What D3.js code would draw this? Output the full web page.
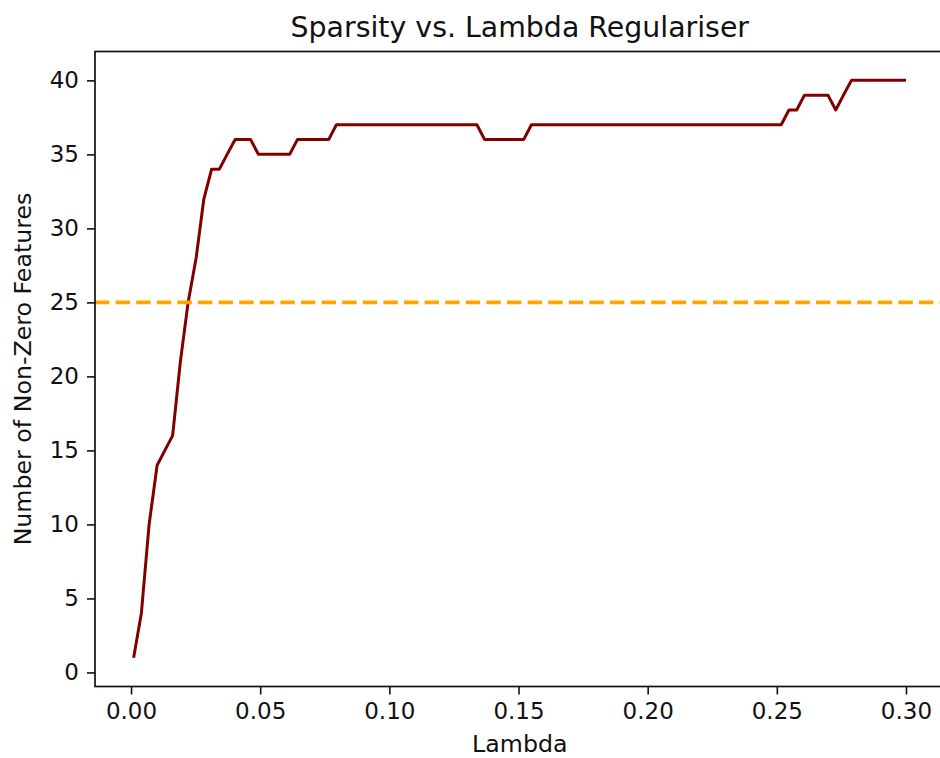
<!DOCTYPE html>
<html>
<head>
<meta charset="utf-8">
<script src="https://cdn.jsdelivr.net/npm/d3@7"></script>
<style>
  html, body { margin: 0; padding: 0; background: #fff; }
  svg { display: block; font-family: "DejaVu Sans", sans-serif; }
</style>
</head>
<body>
<svg id="chart" width="940" height="758"></svg>
<script>
// Lambda values tried by the regularisation sweep
const lambdas = [
  0.0010, 0.0040, 0.0070, 0.0101, 0.0131, 0.0161, 0.0191, 0.0221, 0.0252, 0.0282,
  0.0312, 0.0342, 0.0372, 0.0403, 0.0433, 0.0463, 0.0493, 0.0523, 0.0554, 0.0584,
  0.0614, 0.0644, 0.0674, 0.0705, 0.0735, 0.0765, 0.0795, 0.0825, 0.0856, 0.0886,
  0.0916, 0.0946, 0.0976, 0.1007, 0.1037, 0.1067, 0.1097, 0.1127, 0.1158, 0.1188,
  0.1218, 0.1248, 0.1278, 0.1309, 0.1339, 0.1369, 0.1399, 0.1429, 0.1460, 0.1490,
  0.1520, 0.1550, 0.1580, 0.1611, 0.1641, 0.1671, 0.1701, 0.1731, 0.1762, 0.1792,
  0.1822, 0.1852, 0.1882, 0.1913, 0.1943, 0.1973, 0.2003, 0.2034, 0.2064, 0.2094,
  0.2124, 0.2154, 0.2185, 0.2215, 0.2245, 0.2275, 0.2305, 0.2336, 0.2366, 0.2396,
  0.2426, 0.2456, 0.2487, 0.2517, 0.2547, 0.2577, 0.2607, 0.2638, 0.2668, 0.2698,
  0.2728, 0.2758, 0.2789, 0.2819, 0.2849, 0.2879, 0.2909, 0.2940, 0.2970, 0.3000
];

// Number of non-zero coefficients at each lambda
const nonZeroCounts = [
  1, 4, 10, 14, 15, 16, 21, 25, 28, 32,
  34, 34, 35, 36, 36, 36, 35, 35, 35, 35,
  35, 36, 36, 36, 36, 36, 37, 37, 37, 37,
  37, 37, 37, 37, 37, 37, 37, 37, 37, 37,
  37, 37, 37, 37, 37, 36, 36, 36, 36, 36,
  36, 37, 37, 37, 37, 37, 37, 37, 37, 37,
  37, 37, 37, 37, 37, 37, 37, 37, 37, 37,
  37, 37, 37, 37, 37, 37, 37, 37, 37, 37,
  37, 37, 37, 37, 38, 38, 39, 39, 39, 39,
  38, 39, 40, 40, 40, 40, 40, 40, 40, 40
];

// Target feature count shown as a reference line
const targetFeatures = 25;

const xTicks = [0.00, 0.05, 0.10, 0.15, 0.20, 0.25, 0.30];
const yTicks = [0, 5, 10, 15, 20, 25, 30, 35, 40];

const titleText = "Sparsity vs. Lambda Regulariser";
const xLabelText = "Lambda";
const yLabelText = "Number of Non-Zero Features";

// Layout
const plot = { left: 95, right: 944.6, top: 51.5, bottom: 686.5 };
const tickFont = 23, titleFont = 28.4, labelFont = 23.7;
const tickLen = 8, tickPad = 8;
const ink = "#111";

const svg = d3.select("#chart");

// Axis limits padded by 5% of the data range on each side
const xMin = d3.min(lambdas), xMax = d3.max(lambdas);
const xPad = (xMax - xMin) * 0.05;
const yMin = d3.min(nonZeroCounts), yMax = d3.max(nonZeroCounts);
const yPad = (yMax - yMin) * 0.05;

const x = d3.scaleLinear().domain([xMin - xPad, xMax + xPad]).range([plot.left, plot.right]);
const y = d3.scaleLinear().domain([yMin - yPad, yMax + yPad]).range([plot.bottom, plot.top]);

const points = lambdas.map((l, i) => ({ l, n: nonZeroCounts[i] }));

// Clip marks to the axes box
svg.append("defs").append("clipPath").attr("id", "plot-clip")
  .append("rect")
  .attr("x", plot.left).attr("y", plot.top)
  .attr("width", plot.right - plot.left).attr("height", plot.bottom - plot.top);

const marks = svg.append("g").attr("clip-path", "url(#plot-clip)");

// Sparsity curve
marks.append("path")
  .datum(points)
  .attr("fill", "none")
  .attr("stroke", "#800000")
  .attr("stroke-width", 3)
  .attr("stroke-linejoin", "round")
  .attr("stroke-linecap", "butt")
  .attr("d", d3.line().x(d => x(d.l)).y(d => y(d.n)));

// Horizontal reference line across the whole axes
marks.append("line")
  .attr("x1", plot.left).attr("x2", plot.right)
  .attr("y1", y(targetFeatures)).attr("y2", y(targetFeatures))
  .attr("stroke", "#FFA500")
  .attr("stroke-width", 3.6)
  .attr("stroke-dasharray", "14.4 6.2");

// Bottom axis
const xAxis = d3.axisBottom(x)
  .tickValues(xTicks)
  .tickFormat(d3.format(".2f"))
  .tickSize(tickLen)
  .tickPadding(tickPad);

const gx = svg.append("g")
  .attr("transform", `translate(0,${plot.bottom})`)
  .call(xAxis);
gx.select(".domain").remove();
gx.selectAll(".tick line").attr("stroke", ink).attr("stroke-width", 1.6);
gx.selectAll(".tick text")
  .attr("fill", ink)
  .style("font-size", tickFont + "px")
  .style("font-family", "DejaVu Sans");

// Left axis
const yAxis = d3.axisLeft(y)
  .tickValues(yTicks)
  .tickFormat(d3.format("d"))
  .tickSize(tickLen)
  .tickPadding(tickPad);

const gy = svg.append("g")
  .attr("transform", `translate(${plot.left},0)`)
  .call(yAxis);
gy.select(".domain").remove();
gy.selectAll(".tick line").attr("stroke", ink).attr("stroke-width", 1.6);
gy.selectAll(".tick text")
  .attr("fill", ink)
  .style("font-size", tickFont + "px")
  .style("font-family", "DejaVu Sans");

// Axes frame
svg.append("rect")
  .attr("x", plot.left).attr("y", plot.top)
  .attr("width", plot.right - plot.left).attr("height", plot.bottom - plot.top)
  .attr("fill", "none")
  .attr("stroke", ink)
  .attr("stroke-width", 1.7);

// Title
svg.append("text")
  .attr("x", (plot.left + plot.right) / 2)
  .attr("y", 37)
  .attr("text-anchor", "middle")
  .attr("fill", ink)
  .style("font-size", titleFont + "px")
  .text(titleText);

// X axis label
svg.append("text")
  .attr("x", (plot.left + plot.right) / 2)
  .attr("y", 752)
  .attr("text-anchor", "middle")
  .attr("fill", ink)
  .style("font-size", labelFont + "px")
  .text(xLabelText);

// Y axis label
svg.append("text")
  .attr("transform", `translate(31,${(plot.top + plot.bottom) / 2}) rotate(-90)`)
  .attr("text-anchor", "middle")
  .attr("fill", ink)
  .style("font-size", labelFont + "px")
  .text(yLabelText);
</script>
</body>
</html>
